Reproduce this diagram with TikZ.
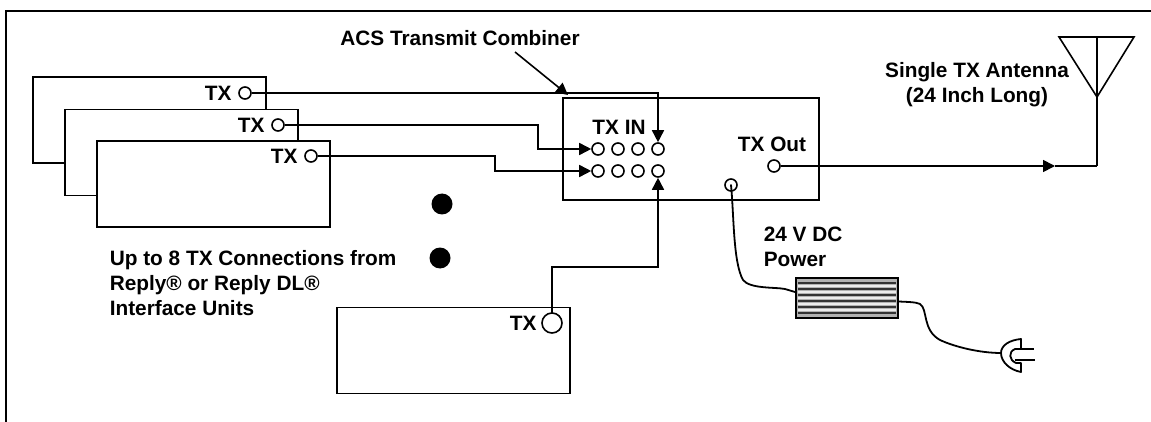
\documentclass[tikz,border=0pt]{standalone}
\usepackage{fontspec}
\setmainfont{Liberation Sans}
\usetikzlibrary{arrows.meta,calc,positioning}

\begin{document}
\begin{tikzpicture}[x=1pt, y=-1pt, line width=1.6pt,
					every node/.style={font=\fontsize{20.8}{25}\selectfont\bfseries, inner sep=0pt},
					unitbox/.style={draw, fill=white, rectangle, minimum width=233pt, minimum height=86pt},
					port/.style={draw, fill=white, circle, minimum size=12pt},
					dot/.style={fill=black, circle, minimum size=21pt},
					conn/.style={-{Triangle[length=12pt,width=12pt]}},
					wire/.style={line join=round, line cap=round, line width=1.8pt}
				]
				\useasboundingbox (0,0) rectangle (1151,422);
				\draw[line width=2pt] (6,422) -- (6,11) -- (1151,11);

				% stacked units
				\node[unitbox] (unita) at (149.5,120) {};
				\node[unitbox] (unitb) at (181.5,152.5) {};
				\node[unitbox] (unitc) at (213.5,184) {};
				\node[unitbox] (unitd) at (453.5,350.5) {};
				\node[port] (txa) at (245,93) {};
				\node[port] (txb) at (278,125) {};
				\node[port] (txc) at (311,156) {};
				\node[port, minimum size=20pt] (txd) at (552,323) {};
				\node[left=6pt of txa] {TX};
				\node[left=6pt of txb] {TX};
				\node[left=6pt of txc] {TX};
				\node[left=4pt of txd] {TX};

				% combiner
				\node[draw, rectangle, minimum width=256pt, minimum height=102pt] (comb) at (691,149) {};
				\foreach \row/\y in {1/149, 2/171}
					\foreach \col/\x in {1/598, 2/618, 3/638, 4/658}
						\node[port] (p\row\col) at (\x,\y) {};
				\node (txin) at (619,127) {TX IN};
				\node[port] (txout) at (774,166) {};
				\node[above=7pt of txout, xshift=-2pt] {TX Out};
				\node[port] (pwr) at (731,185) {};

				\draw[conn] (txa) -| (p14);
				\draw[conn] (txb) -- (538,125) |- (p11);
				\draw[conn] (txc) -- (495,156) |- (p21);
				\draw[conn] (552,313) |- (658,267) -- (p24);

				% antenna
				\coordinate (apex) at (1097,97);
				\coordinate (feed) at (1097,166);
				\coordinate (mid) at (1055,166);
				\draw[line join=miter] (1059,37) -- (1134,37) -- (apex) -- cycle;
				\draw (1097,37) -- (feed);
				\draw[conn] (txout) -- (mid);
				\draw (mid) -- (feed);
				\node[align=center] (ant) at (977,85) {Single TX Antenna\\(24 Inch Long)};

				\node (acs) at (460,38) {ACS Transmit Combiner};
				\coordinate (acsa) at (515,52);
				\coordinate (acsb) at (568,95);
				\draw[conn] (acsa) -- (acsb);

				\node[dot] (dota) at (442,204) {};
				\node[dot] (dotb) at (440,258) {};
				\node[align=left, anchor=west] (upto) at (109,283) {Up to 8 TX Connections from\\Reply\textregistered{} or Reply DL\textregistered\\Interface Units};

				% power supply
				\node[align=left, anchor=west] (dc) at (763,246.5) {24 V DC\\Power};
				\node[draw=black, line width=2pt, fill=gray!60, rectangle, minimum width=102pt, minimum height=40pt] (brick) at (847,298) {};
				\foreach \y in {283,289,295,301,307,313}
					\draw[line width=1.3pt, black!80] (798,\y) -- (896,\y);
				\foreach \y in {286,292,298,304,310}
					\draw[line width=1.3pt, white!85!gray] (798,\y) -- (896,\y);
				\draw[wire] (pwr.center) .. controls (734,215) and (733,262) .. (743,280)
					.. controls (750,289) and (775,287) .. (785,289) -- (brick.west|-0,292);
				\draw[wire] (brick.east|-0,301.5) .. controls (908,302) and (916,302) .. (920,304)
					.. controls (928,309) and (922,330) .. (940,340)
					.. controls (955,347) and (980,353) .. (1001,353);

				% plug
				\coordinate (plug) at (1001,353);
				\draw[wire] (1021,349) -- (1021,339) .. controls (1010,340) and (1001,345) .. (plug)
					.. controls (1001,362) and (1010,370) .. (1021,372) -- (1021,363) -- (1016,363)
					.. controls (1009,360) and (1008,352) .. (1015,349) -- (1021,349);
				\draw (1015,349) -- (1034,349);
				\draw (1015,360) -- (1035,360);
			\end{tikzpicture}
\end{document}
